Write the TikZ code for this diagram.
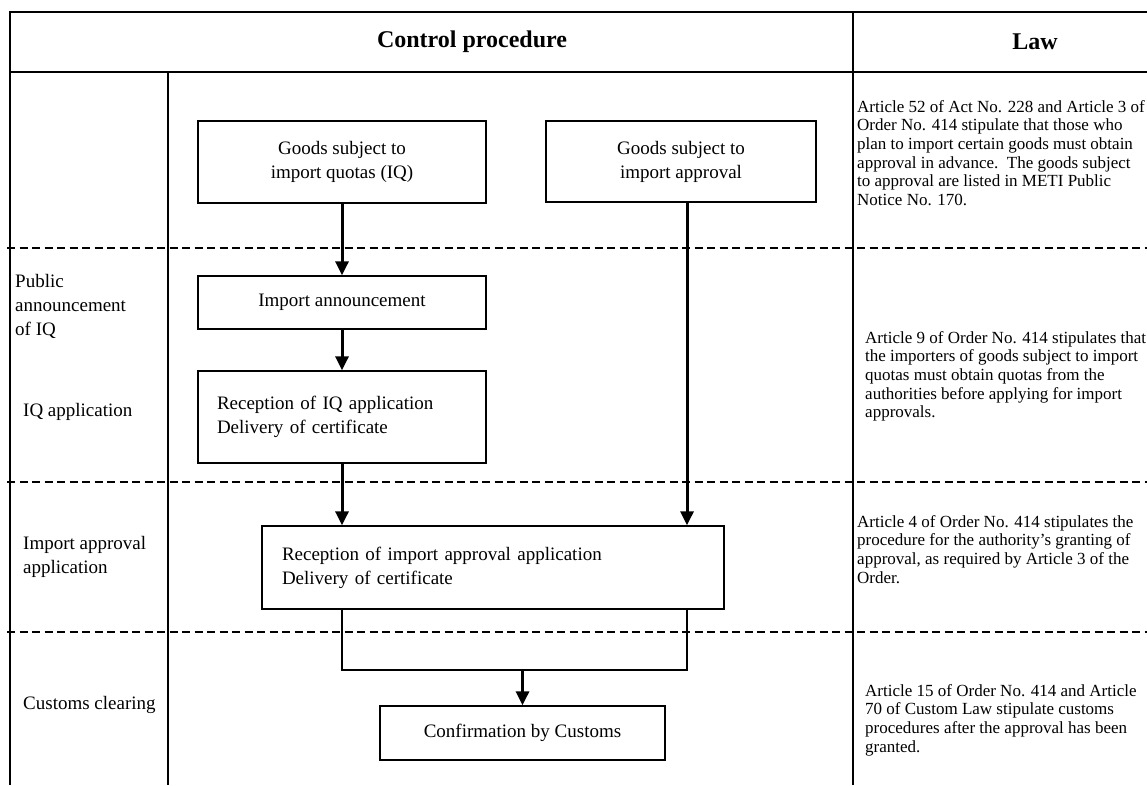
\documentclass[tikz,border=0pt]{standalone}
\usepackage{fontspec}
\setmainfont{Liberation Serif}
\usetikzlibrary{arrows.meta}

\begin{document}
\begin{tikzpicture}[x=1pt, y=-1pt,
    box/.style={draw, line width=1.3pt, align=center, inner sep=0pt,
      font=\fontsize{19}{24}\selectfont},
    flow/.style={line width=3pt, -{Triangle[width=13pt,length=14pt]}},
    sep/.style={line width=2.4pt, dash pattern=on 8pt off 4.5pt},
    lbl/.style={anchor=west, align=left, inner sep=0pt,
      font=\fontsize{19}{24}\selectfont},
    law/.style={anchor=north west, align=left, inner sep=0pt,
      font=\fontsize{17}{18.7}\selectfont}]
  \useasboundingbox (0,0) rectangle (1147,785);

  % table
  \draw[line width=2pt] (1147,12) -- (10,12) -- (10,785);
  \draw[line width=1.5pt] (10,72) -- (1147,72);
  \draw[line width=2pt] (853,12) -- (853,785);
  \draw[line width=1.3pt] (168,72) -- (168,785);
  \foreach \y in {248,482,632}
    \draw[sep] (7,\y) -- (1147,\y);

  \node[font=\fontsize{24}{28}\selectfont\bfseries] (hproc) at (472,42) {Control procedure};
  \node[font=\fontsize{24}{28}\selectfont\bfseries] (hlaw) at (1035,42) {Law};

  % stages
  \node[lbl, anchor=north west] (lpub) at (15,274) {Public\\announcement\\of IQ};
  \node[lbl] (liq) at (23,412) {IQ application};
  \node[lbl] (lapp) at (23,557) {Import approval\\application};
  \node[lbl] (lcus) at (23,705) {Customs clearing};

  % procedure
  \node[box, minimum width=288pt, minimum height=82pt]
    (iq) at (342,162) {Goods subject to\\import quotas (IQ)};
  \node[box, minimum width=270pt, minimum height=81pt]
    (appr) at (681,161.5) {Goods subject to\\import approval};
  \node[box, minimum width=288pt, minimum height=53pt]
    (ann) at (342,302.5) {Import announcement};
  \node[box, minimum height=92pt, text width=250pt, inner xsep=19pt, align=left]
    (reciq) at (342,417) {Reception of IQ application\\Delivery of certificate};
  \node[box, minimum height=83pt, text width=422pt, inner xsep=20pt, align=left]
    (recap) at (493,567.5) {Reception of import approval application\\Delivery of certificate};
  \node[box, minimum width=285pt, minimum height=54pt]
    (conf) at (522.5,733) {Confirmation by Customs};

  \coordinate (bl) at (342,670);
  \coordinate (br) at (687,670);
  \draw
    (iq) edge[flow] (ann)
    (ann) edge[flow] (reciq)
    (reciq) edge[flow] (reciq |- recap.north)
    (appr.south -| br) edge[flow] (recap.north -| br)
    (bl -| conf) edge[flow] (conf)
    ;
  \draw[line width=1.3pt] (recap.south -| bl) -- (bl) -- (br) -- (recap.south -| br);

  % law
  \node[law] (law1) at (857,100) {Article 52 of Act No. 228 and Article 3 of\\
    Order No. 414 stipulate that those who\\
    plan to import certain goods must obtain\\
    approval in advance.\ \ The goods subject\\
    to approval are listed in METI Public\\
    Notice No. 170.};
  \node[law] (law2) at (865,331) {Article 9 of Order No. 414 stipulates that\\
    the importers of goods subject to import\\
    quotas must obtain quotas from the\\
    authorities before applying for import\\
    approvals.};
  \node[law] (law3) at (857,515) {Article 4 of Order No. 414 stipulates the\\
    procedure for the authority's granting of\\
    approval, as required by Article 3 of the\\
    Order.};
  \node[law] (law4) at (865,684) {Article 15 of Order No. 414 and Article\\
    70 of Custom Law stipulate customs\\
    procedures after the approval has been\\
    granted.};
\end{tikzpicture}
\end{document}
